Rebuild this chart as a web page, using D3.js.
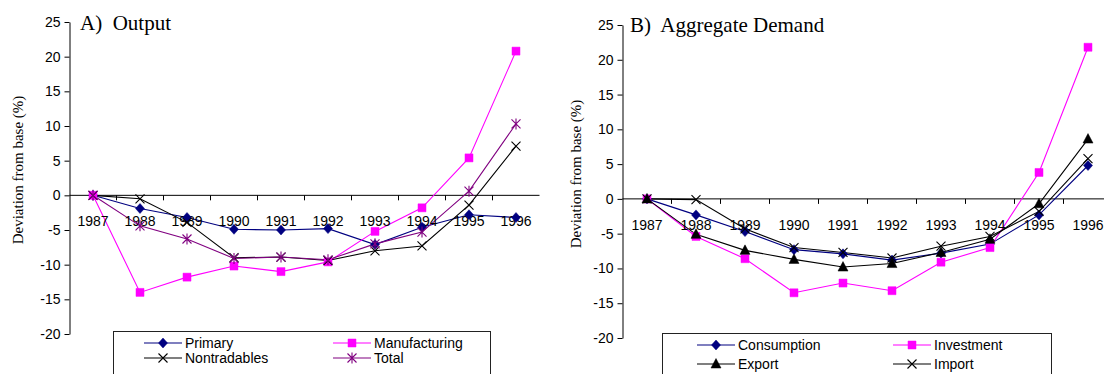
<!DOCTYPE html>
<html>
<head>
<meta charset="utf-8">
<script src="https://cdn.jsdelivr.net/npm/d3@7"></script>
<style>
  body { margin: 0; background: white; }
  svg { display: block; }
</style>
</head>
<body>
<div id="chart"></div>
<script>
// years on the category axis
var years = ["1987","1988","1989","1990","1991","1992","1993","1994","1995","1996"];
var yTicks = [-20, -15, -10, -5, 0, 5, 10, 15, 20, 25];

// panel A: output
var primary       = [0, -1.9, -3.2, -4.9, -5.0, -4.8, -7.1, -4.6, -2.8, -3.2];
var manufacturing = [0, -14.0, -11.8, -10.2, -11.0, -9.6, -5.2, -1.8, 5.4, 20.8];
var nontradables  = [0, -0.5, -3.9, -9.0, -8.9, -9.4, -8.0, -7.3, -1.4, 7.1];
var total         = [0, -4.4, -6.3, -9.1, -8.9, -9.3, -7.0, -5.3, 0.6, 10.3];

// panel B: aggregate demand
var consumption = [0, -2.3, -4.7, -7.3, -7.9, -8.8, -7.8, -6.5, -2.3, 4.8];
var investment  = [0, -5.4, -8.6, -13.5, -12.1, -13.2, -9.1, -7.0, 3.8, 21.8];
var exportS     = [0, -5.1, -7.4, -8.7, -9.8, -9.3, -7.7, -5.8, -0.7, 8.6];
var importS     = [0, -0.1, -4.3, -7.0, -7.7, -8.5, -6.8, -5.4, -1.8, 5.8];

var svg = d3.select("#chart").append("svg")
  .attr("width", 1104)
  .attr("height", 374);

// marker shapes
function markerPath(kind) {
  if (kind == "diamond") return "M0,-5L4.5,0L0,5L-4.5,0Z";
  if (kind == "square") return "M-4,-4H4V4H-4Z";
  if (kind == "triangle") return "M0,-5.5L5,4H-5Z";
  if (kind == "x") return "M-4.5,-4.5L4.5,4.5M-4.5,4.5L4.5,-4.5";
  if (kind == "star") return "M-4.5,-4.5L4.5,4.5M-4.5,4.5L4.5,-4.5M0,-5.5V5.5";
  return "";
}

function drawMarker(g, kind, color, x, y) {
  var filled = (kind == "diamond" || kind == "square" || kind == "triangle");
  g.append("path")
    .attr("d", markerPath(kind))
    .attr("transform", "translate(" + x + "," + y + ")")
    .attr("fill", filled ? color : "none")
    .attr("stroke", color)
    .attr("stroke-width", filled ? 0.5 : 1.1);
}

function drawPanel(p) {
  var g = svg.append("g");

  var x = d3.scaleBand().domain(years).range([p.x0, p.x1]);
  var y = d3.scaleLinear().domain([-20, 25]).range([p.yBottom, p.yTop]);

  // y axis (plain hyphen minus like the original)
  var yAxis = g.append("g")
    .attr("transform", "translate(" + p.x0 + ",0)")
    .call(d3.axisLeft(y).tickValues(yTicks).tickSize(5).tickSizeOuter(0).tickPadding(4)
      .tickFormat(function(d) { return String(d); }));
  yAxis.select(".domain").attr("stroke", "#000");
  yAxis.selectAll("line").attr("stroke", "#000");
  yAxis.selectAll("text")
    .attr("font-family", "Liberation Sans, Arial, sans-serif")
    .attr("font-size", "14px")
    .attr("fill", "#000");

  // x axis on the zero line, ticks between categories
  var zeroY = y(0);
  g.append("line")
    .attr("x1", p.x0).attr("x2", p.x1)
    .attr("y1", zeroY).attr("y2", zeroY)
    .attr("stroke", "#000");
  g.selectAll(".xtick")
    .data(years.slice(1))
    .enter().append("line")
    .attr("x1", function(d) { return x(d); })
    .attr("x2", function(d) { return x(d); })
    .attr("y1", zeroY).attr("y2", zeroY + 5)
    .attr("stroke", "#000");

  // series lines
  var line = d3.line()
    .x(function(d, i) { return x(years[i]) + x.bandwidth() / 2; })
    .y(function(d) { return y(d); });

  p.series.forEach(function(s) {
    g.append("path")
      .attr("d", line(s.values))
      .attr("fill", "none")
      .attr("stroke", s.color)
      .attr("stroke-width", 1.1);
  });

  // year labels sit on top of the lines
  g.selectAll(".xlabel")
    .data(years)
    .enter().append("text")
    .attr("x", function(d) { return x(d) + x.bandwidth() / 2; })
    .attr("y", zeroY + p.labelOffset)
    .attr("text-anchor", "middle")
    .attr("font-family", "Liberation Sans, Arial, sans-serif")
    .attr("font-size", "14px")
    .attr("fill", "#000")
    .text(function(d) { return d; });

  p.series.forEach(function(s) {
    s.values.forEach(function(v, i) {
      drawMarker(g, s.marker, s.color, x(years[i]) + x.bandwidth() / 2, y(v));
    });
  });

  // title
  g.append("text")
    .attr("x", p.titleX)
    .attr("y", p.titleY)
    .attr("font-family", "Liberation Serif, Times New Roman, serif")
    .attr("font-size", "21px")
    .attr("fill", "#000")
    .attr("xml:space", "preserve")
    .text(p.title);

  // y axis title
  g.append("text")
    .attr("transform", "translate(" + p.yTitleX + "," + p.yTitleY + ") rotate(-90)")
    .attr("text-anchor", "middle")
    .attr("font-family", "Liberation Serif, Times New Roman, serif")
    .attr("font-size", "15px")
    .attr("fill", "#000")
    .text("Deviation from base (%)");

  // legend
  var lg = g.append("g");
  lg.append("rect")
    .attr("x", p.legend.x).attr("y", p.legend.y)
    .attr("width", p.legend.w).attr("height", 60)
    .attr("fill", "white")
    .attr("stroke", "#222")
    .attr("stroke-width", 1);

  p.series.forEach(function(s, i) {
    var col = i % 2, row = Math.floor(i / 2);
    var lx = p.legend.cols[col];
    var ly = p.legend.rows[row];
    lg.append("line")
      .attr("x1", lx).attr("x2", lx + 38)
      .attr("y1", ly).attr("y2", ly)
      .attr("stroke", s.color)
      .attr("stroke-width", 1.1);
    drawMarker(lg, s.marker, s.color, lx + 19, ly);
    lg.append("text")
      .attr("x", lx + 41)
      .attr("y", ly + 5)
      .attr("font-family", "Liberation Sans, Arial, sans-serif")
      .attr("font-size", "14px")
      .attr("fill", "#000")
      .text(s.name);
  });
}

drawPanel({
  x0: 69.5, x1: 539.5, yTop: 22, yBottom: 334,
  labelOffset: 31,
  title: "A)  Output", titleX: 80, titleY: 30,
  yTitleX: 23, yTitleY: 170,
  legend: { x: 113.5, y: 331.5, w: 377, cols: [144, 333], rows: [343, 358] },
  series: [
    { name: "Primary", values: primary, color: "#000080", marker: "diamond" },
    { name: "Manufacturing", values: manufacturing, color: "#ff00ff", marker: "square" },
    { name: "Nontradables", values: nontradables, color: "#000000", marker: "x" },
    { name: "Total", values: total, color: "#800080", marker: "star" }
  ]
});

drawPanel({
  x0: 622.5, x1: 1112.5, yTop: 25, yBottom: 338,
  labelOffset: 31,
  title: "B)  Aggregate Demand", titleX: 630, titleY: 32,
  yTitleX: 581, yTitleY: 174,
  legend: { x: 662.5, y: 333.5, w: 389, cols: [697, 893], rows: [345, 364] },
  series: [
    { name: "Consumption", values: consumption, color: "#000080", marker: "diamond" },
    { name: "Investment", values: investment, color: "#ff00ff", marker: "square" },
    { name: "Export", values: exportS, color: "#000000", marker: "triangle" },
    { name: "Import", values: importS, color: "#000000", marker: "x" }
  ]
});
</script>
</body>
</html>
